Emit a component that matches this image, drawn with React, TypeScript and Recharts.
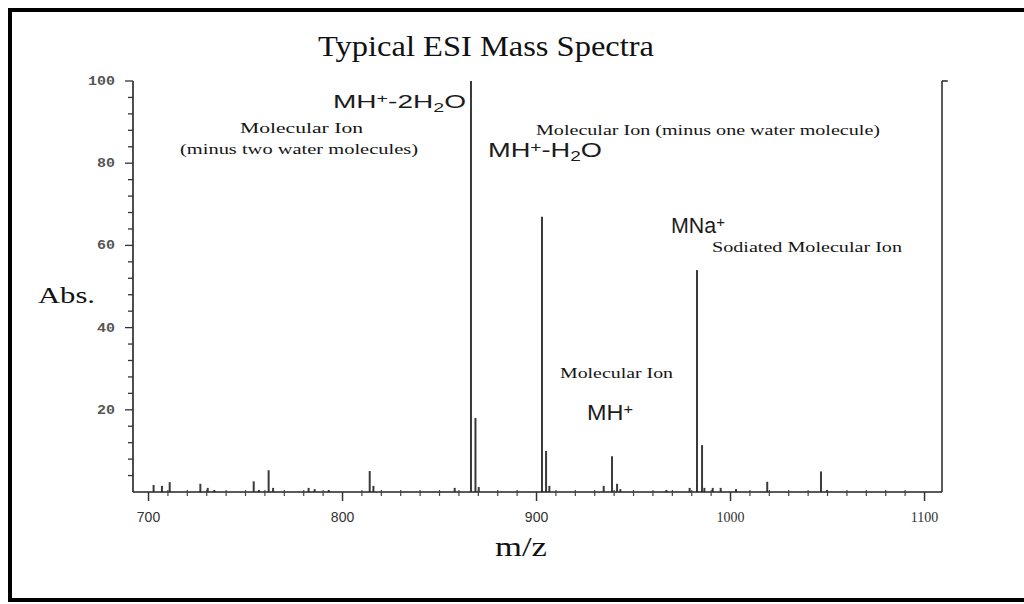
import React from "react";
import { BarChart, Bar, XAxis, YAxis, ReferenceLine } from "recharts";

// m/z of every peak and its relative abundance (%)
const mzValues = [
  702.7, 707.0, 711.0, 726.8, 730.6, 734.0, 754.3, 757.0, 762.0, 764.3,
  782.6, 785.7, 793.0, 814.1, 816.0, 857.9, 866.3, 868.6, 870.3, 902.9,
  905.0, 906.7, 934.7, 939.0, 941.6, 943.3, 967.0, 979.0, 982.8, 985.4,
  986.6, 990.9, 995.0, 1002.9, 1019.0, 1046.7, 1049.8,
];
const absValues = [
  1.7, 1.5, 2.4, 2.0, 1.0, 0.5, 2.6, 0.5, 5.3, 1.0,
  1.0, 0.7, 0.5, 5.1, 1.5, 1.0, 100, 18, 1.2, 67,
  10, 1.5, 1.5, 8.7, 2.0, 0.7, 0.5, 1.0, 54, 11.4,
  1.0, 1.0, 1.0, 0.7, 2.5, 5.0, 0.5,
];

const xDomain = [692, 1109];
const xTicks = [
  700, 710, 720, 730, 740, 750, 760, 770, 780, 790,
  800, 810, 820, 830, 840, 850, 860, 870, 880, 890,
  900, 910, 920, 930, 940, 950, 960, 970, 980, 990,
  1000, 1010, 1020, 1030, 1040, 1050, 1060, 1070, 1080, 1090,
  1100,
];
const yTicks = [
  4, 8, 12, 16, 20, 24, 28, 32, 36, 40, 44, 48, 52,
  56, 60, 64, 68, 72, 76, 80, 84, 88, 92, 96, 100,
];
const frameEdge = 1109;

const peaks = mzValues.map((mz, i) => ({ mz, abs: absValues[i] }));

const SERIF = "'Liberation Serif', 'Times New Roman', serif";
const SANS = "'Liberation Sans', Arial, sans-serif";
const MONO = "'Liberation Mono', 'DejaVu Sans Mono', monospace";

function XTick(props: any) {
  const { x, y, payload } = props;
  const v = payload.value;
  const major = v % 100 === 0;
  return (
    <g>
      {major ? (
        <line x1={x} x2={x} y1={y} y2={y + 9} stroke="#333" strokeWidth={1.5} />
      ) : (
        <line x1={x} x2={x} y1={y - 2} y2={y + 4} stroke="#444" strokeWidth={1.2} />
      )}
      {major && (
        <text
          x={x}
          y={y + 30}
          textAnchor="middle"
          fontFamily={v >= 1000 ? SERIF : SANS}
          fontSize={14}
          fill="#333"
        >
          {v}
        </text>
      )}
    </g>
  );
}

function YTick(props: any) {
  const { x, y, payload } = props;
  const v = payload.value;
  const major = v % 20 === 0;
  const label = String(v);
  return (
    <g>
      <line x1={x - (major ? 8 : 5)} x2={x} y1={y} y2={y} stroke="#333" strokeWidth={1.3} />
      {major && (
        <text
          x={x - 45 + (3 - label.length) * 9}
          y={y + 4}
          fontFamily={MONO}
          fontWeight="bold"
          fontSize={12}
          fill="#555"
          textLength={label.length * 9}
          lengthAdjust="spacingAndGlyphs"
        >
          {label}
        </text>
      )}
    </g>
  );
}

type Part = [string, string?];

function Chem({ x, y, w, size, parts }: { x: number; y: number; w: number; size: number; parts: Part[] }) {
  let shift = 0;
  return (
    <text x={x} y={y} fontFamily={SANS} fontSize={size} fill="#1c1c1c" textLength={w} lengthAdjust="spacingAndGlyphs">
      {parts.map(([t, k], i) => {
        const target = k === "sup" ? -0.26 * size : k === "sub" ? 0.22 * size : 0;
        const dy = target - shift;
        shift = target;
        return (
          <tspan key={i} dy={dy} fontSize={k ? size * 0.7 : size}>
            {t}
          </tspan>
        );
      })}
    </text>
  );
}

function Note({ x, y, w, size, children }: { x: number; y: number; w: number; size: number; children: string }) {
  return (
    <text x={x} y={y} fontFamily={SERIF} fontSize={size} fill="#151515" textLength={w} lengthAdjust="spacingAndGlyphs">
      {children}
    </text>
  );
}

export default function App() {
  return (
    <div
      style={{
        position: "fixed",
        left: 8,
        top: 8,
        width: 1016,
        height: 594,
        boxSizing: "border-box",
        border: "4px solid #000",
        borderRight: "none",
        background: "#fff",
      }}
    >
      <BarChart
        width={1012}
        height={586}
        data={peaks}
        margin={{ top: 69, right: 82, bottom: 76, left: 61 }}
      >
        <XAxis
          type="number"
          dataKey="mz"
          domain={xDomain}
          ticks={xTicks}
          interval={0}
          allowDataOverflow
          height={30}
          tickSize={0}
          tickMargin={0}
          tickLine={false}
          tick={<XTick />}
          axisLine={{ stroke: "#222", strokeWidth: 1.6 }}
        />
        <YAxis
          type="number"
          domain={[0, 100]}
          ticks={yTicks}
          interval={0}
          width={60}
          tickSize={0}
          tickMargin={0}
          tickLine={false}
          tick={<YTick />}
          axisLine={{ stroke: "#222", strokeWidth: 1.6 }}
        />
        <ReferenceLine x={frameEdge} stroke="#333" strokeWidth={1.6} />
        <ReferenceLine
          segment={[
            { x: frameEdge, y: 100 },
            { x: frameEdge + 3, y: 100 },
          ]}
          stroke="#333"
          strokeWidth={1.6}
          ifOverflow="visible"
        />
        <Bar dataKey="abs" fill="#3a3a3a" barSize={2} isAnimationActive={false} />
      </BarChart>

      <svg
        width={1024}
        height={604}
        style={{ position: "absolute", left: -12, top: -12, pointerEvents: "none" }}
      >
        <text x={318} y={56} fontFamily={SERIF} fontSize={29} fill="#111" textLength={336} lengthAdjust="spacingAndGlyphs">
          Typical ESI Mass Spectra
        </text>
        <text x={38} y={303} fontFamily={SERIF} fontSize={24} fill="#111" textLength={57} lengthAdjust="spacingAndGlyphs">
          Abs.
        </text>
        <text x={495} y={556} fontFamily={SERIF} fontSize={28} fill="#111" textLength={52} lengthAdjust="spacingAndGlyphs">
          m/z
        </text>

        <Chem x={333} y={108} w={133} size={19} parts={[["MH"], ["+", "sup"], ["-2H"], ["2", "sub"], ["O"]]} />
        <Note x={240} y={133} w={123} size={15}>Molecular Ion</Note>
        <Note x={180} y={154} w={238} size={15}>(minus two water molecules)</Note>

        <Note x={536} y={135} w={344} size={15}>Molecular Ion (minus one water molecule)</Note>
        <Chem x={488} y={157} w={114} size={20} parts={[["MH"], ["+", "sup"], ["-H"], ["2", "sub"], ["O"]]} />

        <Chem x={671} y={233} w={54} size={22} parts={[["MNa"], ["+", "sup"]]} />
        <Note x={712} y={252} w={190} size={15}>Sodiated Molecular Ion</Note>

        <Note x={560} y={378} w={113} size={15}>Molecular Ion</Note>
        <Chem x={587} y={420} w={46} size={22} parts={[["MH"], ["+", "sup"]]} />
      </svg>
    </div>
  );
}
